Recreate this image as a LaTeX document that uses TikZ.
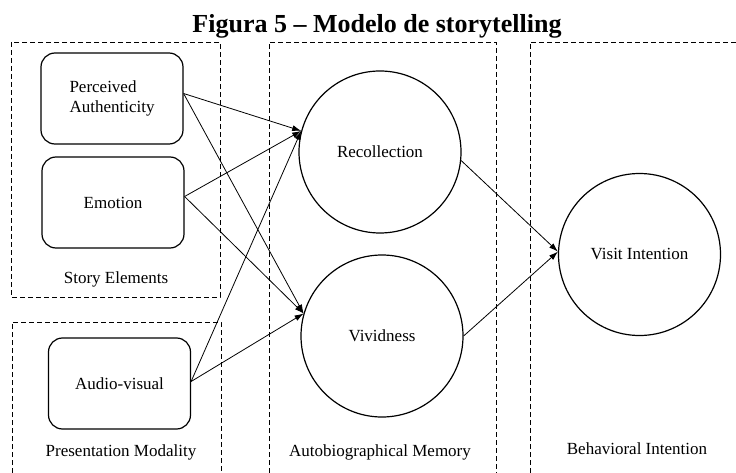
\documentclass[tikz,border=0pt]{standalone}
\usepackage{fontspec}
\setmainfont{Liberation Serif}
\usetikzlibrary{arrows.meta}
\tikzstyle{every node}=[font=\fontsize{17}{20}\selectfont]
\tikzstyle{factor}=[draw=black,line width=1.2pt,rounded corners=14pt,minimum width=142pt,minimum height=91pt,align=left]
\tikzstyle{construct}=[draw=black,line width=1.2pt,circle,minimum size=162pt,inner sep=0pt]
\tikzstyle{group}=[dash pattern=on 5pt off 3pt,line width=0.8pt]
\tikzstyle{link}=[line width=0.8pt,-{Latex[length=9pt,width=6pt]}]

\begin{document}
\begin{tikzpicture}[x=1pt,y=-1pt]
  \useasboundingbox (0,0) rectangle (736,473);
  \node [anchor=base,font=\fontsize{26}{30}\selectfont\bfseries] (title) at (377,33) {Figura 5 -- Modelo de storytelling};

  % groups
  \draw [group] (11,42) rectangle (220,297);
  \draw [group] (12,473) |- (221,322) -- (221,473);
  \draw [group] (269,473) |- (496,42) -- (496,473);
  \draw [group] (530,473) |- (736,42);
  \node (storylbl) at (116,279) {Story Elements};
  \node (presentlbl) at (121,452) {Presentation Modality};
  \node (memorylbl) at (380,452) {Autobiographical Memory};
  \node (behavlbl) at (637,449) {Behavioral Intention};

  % factors
  \node [factor] (auth) at (112,98.5) {Perceived\\Authenticity};
  \node [factor] (emotion) at (113,202.5) {Emotion};
  \node [factor] (audio) at (119.5,383.5) {Audio-visual};

  % constructs
  \node [construct] (recoll) at (380,152) {Recollection};
  \node [construct] (vivid) at (382,336) {Vividness};
  \node [construct] (visit) at (639.5,254.5) {Visit Intention};

  % links
  \draw [link] ([yshift=5pt]auth.east) -- (recoll.165);
  \draw [link] ([yshift=5pt]auth.east) -- (vivid.164);
  \draw [link] ([yshift=6pt]emotion.east) -- (recoll.165);
  \draw [link] ([yshift=6pt]emotion.east) -- (vivid.164);
  \draw [link] ([yshift=2pt]audio.east) -- (recoll.165);
  \draw [link] ([yshift=2pt]audio.east) -- (vivid.164);
  \draw [link] (recoll.-6) -- (visit.178);
  \draw [link] (vivid.east) -- (visit.178);
\end{tikzpicture}
\end{document}
